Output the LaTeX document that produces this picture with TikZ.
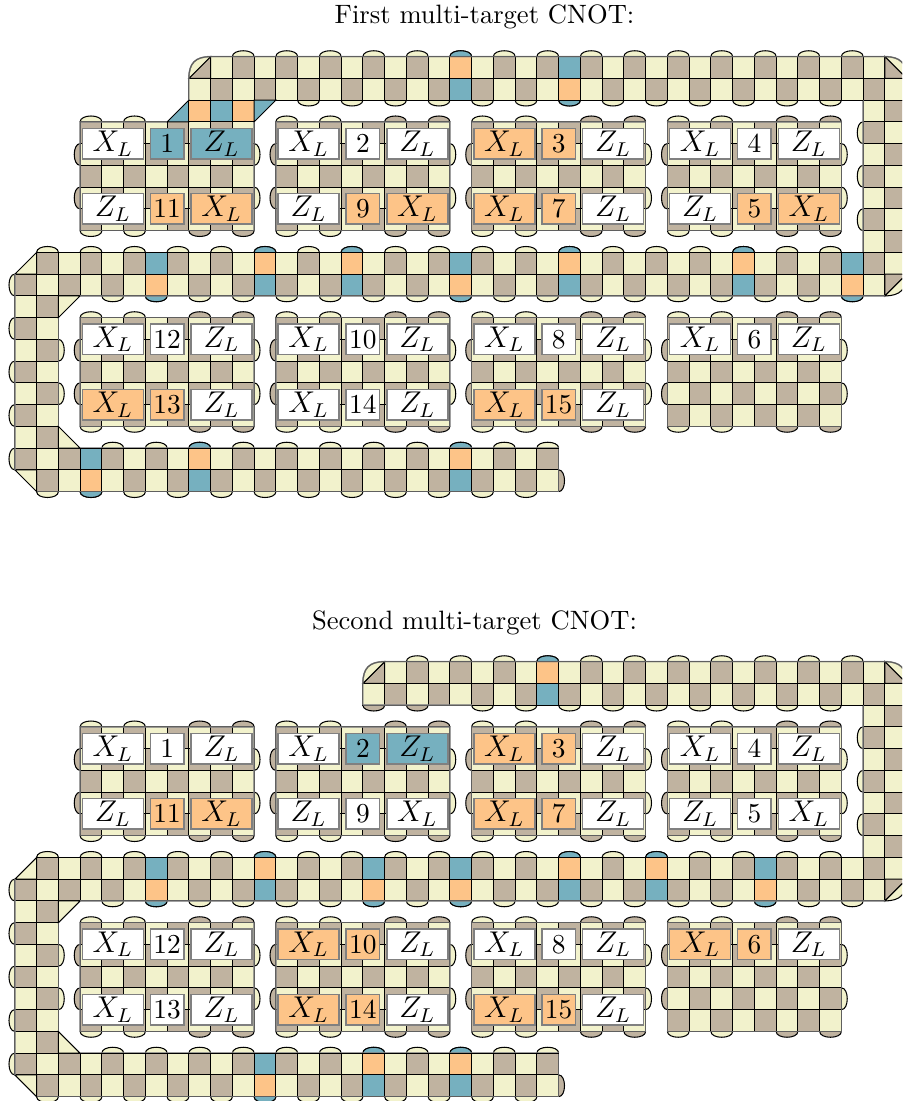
\documentclass[tikz,border=0pt]{standalone}
\definecolor{yel}{RGB}{242,242,204}
\definecolor{drk}{RGB}{192,179,160}
\definecolor{blu}{RGB}{118,176,191}
\definecolor{org}{RGB}{253,196,136}
\definecolor{wht}{RGB}{255,255,255}
\tikzset{
  cellst/.style={draw=black,line width=0.42pt},
  graybd/.style={draw=black!50,line width=0.6pt,opacity=.75},
  thinbd/.style={draw=black,line width=0.42pt},
  qbox/.style={draw=black!50,line width=0.6pt,inner sep=0pt,minimum height=12.2pt},
  wbox/.style={qbox,minimum width=24.4pt,font=\large},
  nbox/.style={qbox,minimum width=13.4pt,font=\fontsize{10.95}{13}\selectfont},
  link/.style={draw=black,line width=0.42pt},
  ttl/.style={inner sep=0pt,font=\fontsize{10.63}{13}\selectfont}
}
% cell with parity (odd = yellow)
\newcommand\cellP[3]{\ifodd\numexpr#1+#2+#3\relax\def\cc{yel}\else\def\cc{drk}\fi
  \draw[cellst,fill=\cc] (#1,#2) rectangle ++(1,1);}
\newcommand\bT[3]{\draw[cellst,fill=#3] (#1,#2) .. controls +(0,-.36) and +(0,-.36) .. ++(1,0);}
\newcommand\bB[3]{\draw[cellst,fill=#3] (#1,#2+1) .. controls +(0,.36) and +(0,.36) .. ++(1,0);}
\newcommand\bL[3]{\draw[cellst,fill=#3] (#1,#2) .. controls +(-.36,0) and +(-.36,0) .. ++(0,1);}
\newcommand\bR[3]{\draw[cellst,fill=#3] (#1+1,#2) .. controls +(.36,0) and +(.36,0) .. ++(0,1);}
% #1 c0, #2 j0, #3 =1 with right top bumps
\newcommand\Block[3]{%
  \pgfmathtruncatemacro\cA{#1+2}\pgfmathtruncatemacro\cB{#1+5}\pgfmathtruncatemacro\cC{#1+7}%
  \pgfmathtruncatemacro\rA{#2+1}\pgfmathtruncatemacro\rB{#2+3}\pgfmathtruncatemacro\rC{#2+4}%
  \bT{#1}{#2}{yel}\bT{\cA}{#2}{yel}%
  \ifnum#3=1 \bT{\cB}{#2}{drk}\bT{\cC}{#2}{drk}\fi
  \bB{#1}{\rC}{yel}\bB{\cA}{\rC}{yel}\bB{\cB}{\rC}{drk}\bB{\cC}{\rC}{drk}%
  \bL{#1}{\rA}{drk}\bL{#1}{\rB}{drk}\bR{\cC}{\rA}{yel}\bR{\cC}{\rB}{yel}%
  \pgfmathtruncatemacro\sumP{#1+#2}%
  \foreach \ci in {0,...,7}{\foreach \rj in {0,...,4}{%
    \pgfmathtruncatemacro\ii{#1+\ci}\pgfmathtruncatemacro\jj{#2+\rj}%
    \cellP{\ii}{\jj}{\sumP}}}%
}
\newcommand\hl[2]{% column #1, strip rows #2,#2+1
  \pgfmathtruncatemacro\nx{#2+1}%
  \ifodd\numexpr#1+#2\relax
    \bB{#1}{\nx}{blu}\draw[cellst,fill=blu] (#1,#2) rectangle ++(1,1);\draw[cellst,fill=org] (#1,\nx) rectangle ++(1,1);
  \else
    \bT{#1}{#2}{blu}\draw[cellst,fill=org] (#1,#2) rectangle ++(1,1);\draw[cellst,fill=blu] (#1,\nx) rectangle ++(1,1);
  \fi}
% shared lattice
\newcommand\Lattice{%
  % second strip bumps
  \foreach \i in {1,3,...,37}{\bT{\i}{9}{yel}}
  \foreach \i in {4,6,...,38}{\bB{\i}{10}{yel}}
  \bL{0}{10}{yel}
  % left strip bumps
  \foreach \j in {12,14,16,18}{\bL{0}{\j}{yel}}
  \foreach \j in {13,15}{\bR{1}{\j}{yel}}
  % bottom strip bumps
  \foreach \i in {4,6,...,24}{\bT{\i}{18}{yel}}
  \foreach \i in {1,3,...,23}{\bB{\i}{19}{yel}}
  \bR{24}{19}{drk}
  % right strip bumps
  \foreach \j in {3,5,7}{\bL{39}{\j}{yel}}
  % top strip: cells on the right
  \foreach \j in {1,...,9}{\cellP{40}{\j}{0}}
  \foreach \j in {0,...,10}{\cellP{39}{\j}{0}}
  \foreach \i in {1,...,38}{\cellP{\i}{9}{0}}
  \foreach \i in {0,...,38}{\cellP{\i}{10}{0}}
  \foreach \j in {11,...,17}{\cellP{0}{\j}{0}\cellP{1}{\j}{0}}
  \foreach \i in {0,...,24}{\cellP{\i}{18}{0}}
  \foreach \i in {1,...,24}{\cellP{\i}{19}{0}}
  % corners
  \draw[cellst,fill=drk] (40,0) -- (41,1) -- (40,1) -- cycle;
  \draw[cellst,fill=yel] (40,0) .. controls (40.7,0) and (41,.3) .. (41,1) -- cycle;
  \draw[cellst,fill=drk] (40,10) -- (41,10) -- (40,11) -- cycle;
  \draw[cellst,fill=yel] (41,10) .. controls (41,10.7) and (40.7,11) .. (40,11) -- cycle;
  \draw[cellst,fill=yel] (1,9) -- (0,10) -- (1,10) -- cycle;
  \draw[cellst,fill=yel] (2,11) -- (3,11) -- (2,12) -- cycle;
  \draw[cellst,fill=yel] (2,17) -- (3,18) -- (2,18) -- cycle;
  \draw[cellst,fill=yel] (0,19) -- (1,19) -- (1,20) -- cycle;
}
\newcommand\LatticeGray{%
  \draw[graybd] (39,2) -- (39,9);
  \draw[graybd] (3,11) -- (40,11);
  \draw[graybd] (0,10) -- (0,19);
  \draw[graybd] (2,12) -- (2,17);
  \draw[graybd] (1,20) -- (25,20);
  \draw[graybd] (25,18) -- (25,20);
  \draw[graybd] (3,18) -- (25,18);
  \draw[graybd] (1,9) -- (39,9);
  \foreach \c/\r in {12/3,21/3,30/3,3/12,12/12,21/12,30/12}{\draw[graybd] (\c,\r) rectangle ++(8,5);}
  \draw[thinbd] (1,9) -- (39,9);
  \draw[thinbd] (3,18) -- (25,18);
}
% #1 name, #2 c0, #3 row, #4 letter, #5 colour, #6 number, #7 colour, #8 letter, #9 colour
\newcommand\Unit[9]{%
  \node[wbox,fill=#5] (\pp#1x) at (#2+1.5,#3) {$#4_L$};
  \node[nbox,fill=#7] (\pp#1n) at (#2+4,#3) {#6};
  \node[wbox,fill=#9] (\pp#1z) at (#2+6.5,#3) {$#8_L$};
  \draw[link] (\pp#1x) -- (\pp#1n);
  \draw[link] (\pp#1n) -- (\pp#1z);
}
\begin{document}
\begin{tikzpicture}
\useasboundingbox (0,0) rectangle (360.8pt,-440.4pt);
\clip (0,0) rectangle (360.8pt,-440.4pt);
\node[ttl] (title1) at (193.8pt,-6.8pt) {First multi-target CNOT:};
\node[ttl] (title2) at (189.8pt,-249.2pt) {Second multi-target CNOT:};
%%% first picture
\begin{scope}[x=8.7pt,y=-8.7pt,shift={(5.95pt,-22.65pt)}]
\def\pp{p}
\foreach \i in {10,12,...,38}{\bT{\i}{0}{yel}}
\foreach \i in {13,15,...,37}{\bB{\i}{1}{yel}}
\Lattice
\foreach \i in {9,...,38}{\cellP{\i}{0}{0}}
\foreach \i in {8,...,38}{\cellP{\i}{1}{0}}
\draw[cellst,fill=drk] (8,1) -- (9,0) -- (9,1) -- cycle;
\draw[cellst,fill=yel] (8,1) .. controls (8,.3) and (8.3,0) .. (9,0) -- cycle;
\Block{3}{3}{0}\Block{12}{3}{1}\Block{21}{3}{1}\Block{30}{3}{1}
\Block{3}{12}{1}\Block{12}{12}{1}\Block{21}{12}{1}\Block{30}{12}{1}
% connector
\draw[cellst,fill=blu] (7,3) -- (8,2) -- (8,3) -- cycle;
\draw[cellst,fill=org] (8,2) rectangle ++(1,1);
\draw[cellst,fill=blu] (9,2) rectangle ++(1,1);
\draw[cellst,fill=org] (10,2) rectangle ++(1,1);
\draw[cellst,fill=blu] (11,2) -- (12,2) -- (11,3) -- cycle;
% highlighted columns
\foreach \c in {20,25}{\hl{\c}{0}}
\foreach \c in {6,11,15,20,25,33,38}{\hl{\c}{9}}
\foreach \c in {3,8,20}{\hl{\c}{18}}
% outlines
\LatticeGray
\draw[graybd] (8,2) -- (8,1) .. controls (8,.3) and (8.3,0) .. (9,0) -- (40,0) .. controls (40.7,0) and (41,.3) .. (41,1);
\draw[graybd] (7,3) -- (3,3) -- (3,8) -- (11,8) -- (11,3);
\draw[thinbd] (12,2) -- (39,2);
% logical qubits
\Unit{a}{3}{4}{X}{wht}{1}{blu}{Z}{blu}
\Unit{b}{12}{4}{X}{wht}{2}{wht}{Z}{wht}
\Unit{c}{21}{4}{X}{org}{3}{org}{Z}{wht}
\Unit{d}{30}{4}{X}{wht}{4}{wht}{Z}{wht}
\Unit{e}{3}{7}{Z}{wht}{11}{org}{X}{org}
\Unit{f}{12}{7}{Z}{wht}{9}{org}{X}{org}
\Unit{g}{21}{7}{X}{org}{7}{org}{Z}{wht}
\Unit{h}{30}{7}{Z}{wht}{5}{org}{X}{org}
\Unit{i}{3}{13}{X}{wht}{12}{wht}{Z}{wht}
\Unit{j}{12}{13}{X}{wht}{10}{wht}{Z}{wht}
\Unit{k}{21}{13}{X}{wht}{8}{wht}{Z}{wht}
\Unit{l}{30}{13}{X}{wht}{6}{wht}{Z}{wht}
\Unit{m}{3}{16}{X}{org}{13}{org}{Z}{wht}
\Unit{n}{12}{16}{X}{wht}{14}{wht}{Z}{wht}
\Unit{o}{21}{16}{X}{org}{15}{org}{Z}{wht}
\end{scope}
%%% second picture
\begin{scope}[x=8.7pt,y=-8.7pt,shift={(5.95pt,-264.65pt)}]
\def\pp{q}
\foreach \i in {18,20,...,38}{\bT{\i}{0}{yel}}
\foreach \i in {16,18}{\bB{\i}{1}{drk}}
\foreach \i in {21,23,...,37}{\bB{\i}{1}{yel}}
\Lattice
\foreach \i in {17,...,38}{\cellP{\i}{0}{0}}
\foreach \i in {16,...,38}{\cellP{\i}{1}{0}}
\draw[cellst,fill=drk] (16,1) -- (17,0) -- (17,1) -- cycle;
\draw[cellst,fill=yel] (16,1) .. controls (16,.3) and (16.3,0) .. (17,0) -- cycle;
\Block{3}{3}{1}\Block{12}{3}{1}\Block{21}{3}{1}\Block{30}{3}{1}
\Block{3}{12}{1}\Block{12}{12}{1}\Block{21}{12}{1}\Block{30}{12}{1}
\foreach \c in {24}{\hl{\c}{0}}
\foreach \c in {6,11,16,20,25,29,34}{\hl{\c}{9}}
\foreach \c in {11,16,20}{\hl{\c}{18}}
\LatticeGray
\draw[graybd] (16,2) -- (16,1) .. controls (16,.3) and (16.3,0) .. (17,0) -- (40,0) .. controls (40.7,0) and (41,.3) .. (41,1);
\draw[graybd] (3,3) rectangle ++(8,5);
\draw[graybd] (16,2) -- (21,2);
\draw[thinbd] (21,2) -- (39,2);
\Unit{a}{3}{4}{X}{wht}{1}{wht}{Z}{wht}
\Unit{b}{12}{4}{X}{wht}{2}{blu}{Z}{blu}
\Unit{c}{21}{4}{X}{org}{3}{org}{Z}{wht}
\Unit{d}{30}{4}{X}{wht}{4}{wht}{Z}{wht}
\Unit{e}{3}{7}{Z}{wht}{11}{org}{X}{org}
\Unit{f}{12}{7}{Z}{wht}{9}{wht}{X}{wht}
\Unit{g}{21}{7}{X}{org}{7}{org}{Z}{wht}
\Unit{h}{30}{7}{Z}{wht}{5}{wht}{X}{wht}
\Unit{i}{3}{13}{X}{wht}{12}{wht}{Z}{wht}
\Unit{j}{12}{13}{X}{org}{10}{org}{Z}{wht}
\Unit{k}{21}{13}{X}{wht}{8}{wht}{Z}{wht}
\Unit{l}{30}{13}{X}{org}{6}{org}{Z}{wht}
\Unit{m}{3}{16}{X}{wht}{13}{wht}{Z}{wht}
\Unit{n}{12}{16}{X}{org}{14}{org}{Z}{wht}
\Unit{o}{21}{16}{X}{org}{15}{org}{Z}{wht}
\end{scope}
\end{tikzpicture}
\end{document}
